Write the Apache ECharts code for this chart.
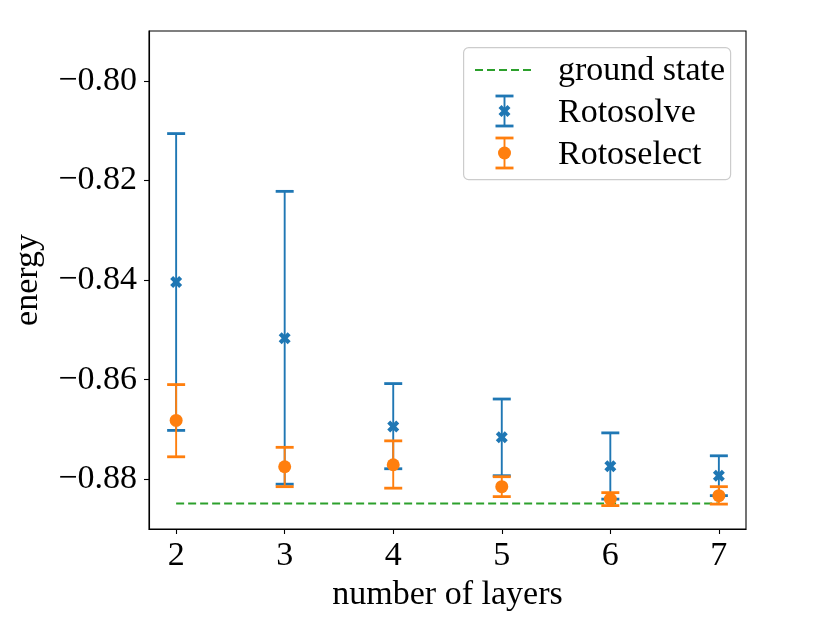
<!DOCTYPE html>
<html>
<head>
<meta charset="utf-8">
<script src="https://cdn.jsdelivr.net/npm/echarts@6/dist/echarts.min.js"></script>
<style>
html,body{margin:0;padding:0;background:#fff;}
#chart{width:830px;height:623px;}
</style>
</head>
<body>
<div id="chart"></div>
<script>
// ---- data ----
const layers = [2, 3, 4, 5, 6, 7];
const rotosolveMean = [-0.8404, -0.8517, -0.8694, -0.8716, -0.8774, -0.8793];
const rotosolveLow  = [-0.8702, -0.8810, -0.8779, -0.8793, -0.8840, -0.8833];
const rotosolveHigh = [-0.8106, -0.8222, -0.8608, -0.8639, -0.8707, -0.8753];
const rotoselectMean = [-0.8682, -0.8775, -0.8771, -0.8815, -0.8840, -0.8833];
const rotoselectLow  = [-0.8755, -0.8815, -0.8818, -0.8835, -0.8853, -0.8850];
const rotoselectHigh = [-0.8610, -0.8736, -0.8723, -0.8795, -0.8827, -0.8815];
const groundStateX = [2, 7];
const groundStateEnergy = -0.8849;
const xTicks = [2, 3, 4, 5, 6, 7];
const yTicks = [-0.88, -0.86, -0.84, -0.82, -0.80];
const legendLabels = ['ground state', 'Rotosolve', 'Rotoselect'];
const axisTitles = {x: 'number of layers', y: 'energy'};

// ---- styling ----
const BLUE = '#1f77b4', ORANGE = '#ff7f0e', GREEN = '#2ca02c';
const FONT = 'Liberation Serif';
const FS = 34;
const X_PATH = 'path://M-2,-4 L0,-2 L2,-4 L4,-2 L2,0 L4,2 L2,4 L0,2 L-2,4 L-4,2 L-2,0 L-4,-2 Z';

function errData(mean, lo, hi) {
  return layers.map((x, i) => [x, mean[i], lo[i], hi[i]]);
}
function errRender(color) {
  return function (params, api) {
    const x = api.value(0);
    const pLo = api.coord([x, api.value(2)]);
    const pHi = api.coord([x, api.value(3)]);
    const cw = 9;
    return {
      type: 'group',
      children: [
        {type: 'line', shape: {x1: pLo[0], y1: pLo[1], x2: pHi[0], y2: pHi[1]},
         style: {stroke: color, lineWidth: 1.9}},
        {type: 'line', shape: {x1: pLo[0] - cw, y1: pLo[1], x2: pLo[0] + cw, y2: pLo[1]},
         style: {stroke: color, lineWidth: 2.8}},
        {type: 'line', shape: {x1: pHi[0] - cw, y1: pHi[1], x2: pHi[0] + cw, y2: pHi[1]},
         style: {stroke: color, lineWidth: 2.8}}
      ]
    };
  };
}

const fmt = v => (v < 0 ? '\u2212' : '') + Math.abs(v).toFixed(2);

const chart = echarts.init(document.getElementById('chart'), null, {renderer: 'canvas'});
const gridL = 149, gridT = 31, gridR = 84, gridB = 94;
const lx = 463, ly = 47;
const ZL = 110;
chart.setOption({
  animation: false,
  backgroundColor: '#fff',
  textStyle: {fontFamily: FONT},
  grid: {left: gridL, top: gridT, right: gridR, bottom: gridB, show: true,
         borderColor: '#000', borderWidth: 1.1, backgroundColor: 'transparent'},
  xAxis: {
    type: 'value', min: 1.75, max: 7.25,
    name: axisTitles.x, nameLocation: 'middle', nameGap: 33,
    nameTextStyle: {fontFamily: FONT, fontSize: FS, color: '#000'},
    axisLine: {show: true, onZero: false, lineStyle: {color: '#000', width: 1.1}},
    axisTick: {show: true, inside: false, length: 5, customValues: xTicks, lineStyle: {color: '#000', width: 1.1}},
    axisLabel: {show: true, customValues: xTicks, margin: 10, fontFamily: FONT, fontSize: FS, color: '#000',
                formatter: v => String(v)},
    splitLine: {show: false}
  },
  yAxis: {
    type: 'value', min: -0.89, max: -0.79,
    name: axisTitles.y, nameLocation: 'middle', nameGap: 104,
    nameTextStyle: {fontFamily: FONT, fontSize: FS, color: '#000'},
    axisLine: {show: true, onZero: false, lineStyle: {color: '#000', width: 1.1}},
    axisTick: {show: true, inside: false, length: 5, customValues: yTicks, lineStyle: {color: '#000', width: 1.1}},
    axisLabel: {show: true, customValues: yTicks, margin: 12, fontFamily: FONT, fontSize: FS, color: '#000',
                formatter: fmt},
    splitLine: {show: false}
  },
  series: [
    {
      name: legendLabels[0], type: 'line', z: 2,
      data: groundStateX.map(x => [x, groundStateEnergy]),
      symbol: 'none',
      lineStyle: {color: GREEN, width: 2, type: [8, 4]}
    },
    {
      name: legendLabels[1] + ' err', type: 'custom', z: 3,
      renderItem: errRender(BLUE),
      data: errData(rotosolveMean, rotosolveLow, rotosolveHigh),
      encode: {x: 0, y: [2, 3]}
    },
    {
      name: legendLabels[1], type: 'scatter', z: 4,
      symbol: X_PATH, symbolSize: 12,
      itemStyle: {color: BLUE, opacity: 1},
      data: layers.map((x, i) => [x, rotosolveMean[i]])
    },
    {
      name: legendLabels[2] + ' err', type: 'custom', z: 5,
      renderItem: errRender(ORANGE),
      data: errData(rotoselectMean, rotoselectLow, rotoselectHigh),
      encode: {x: 0, y: [2, 3]}
    },
    {
      name: legendLabels[2], type: 'scatter', z: 6,
      symbol: 'circle', symbolSize: 13,
      itemStyle: {color: ORANGE, opacity: 1},
      data: layers.map((x, i) => [x, rotoselectMean[i]])
    }
  ],
  graphic: [
    {type: 'rect', left: lx, top: ly, z: 100,
     shape: {width: 267, height: 132, r: 5},
     style: {fill: 'rgba(255,255,255,0.8)', stroke: '#cccccc', lineWidth: 1.2}},
    {type: 'line', z: ZL, shape: {x1: 475, y1: 70, x2: 535, y2: 70},
     style: {stroke: GREEN, lineWidth: 2, lineDash: [8, 4]}},
    {type: 'line', z: ZL, shape: {x1: 504.5, y1: 96, x2: 504.5, y2: 126}, style: {stroke: BLUE, lineWidth: 1.9}},
    {type: 'line', z: ZL, shape: {x1: 495.5, y1: 96, x2: 513.5, y2: 96}, style: {stroke: BLUE, lineWidth: 2.8}},
    {type: 'line', z: ZL, shape: {x1: 495.5, y1: 126, x2: 513.5, y2: 126}, style: {stroke: BLUE, lineWidth: 2.8}},
    {type: 'polygon', z: ZL + 1, x: 504.5, y: 111,
     shape: {points: [[-2,-4],[0,-2],[2,-4],[4,-2],[2,0],[4,2],[2,4],[0,2],[-2,4],[-4,2],[-2,0],[-4,-2]].map(p => [p[0]*1.5, p[1]*1.5])},
     style: {fill: BLUE}},
    {type: 'line', z: ZL, shape: {x1: 504.5, y1: 138, x2: 504.5, y2: 168}, style: {stroke: ORANGE, lineWidth: 1.9}},
    {type: 'line', z: ZL, shape: {x1: 495.5, y1: 138, x2: 513.5, y2: 138}, style: {stroke: ORANGE, lineWidth: 2.8}},
    {type: 'line', z: ZL, shape: {x1: 495.5, y1: 168, x2: 513.5, y2: 168}, style: {stroke: ORANGE, lineWidth: 2.8}},
    {type: 'circle', z: ZL + 1, shape: {cx: 504.5, cy: 153, r: 6.5}, style: {fill: ORANGE}},
    {type: 'text', x: 558, y: 71, z: ZL,
     style: {text: legendLabels[0], font: FS + 'px "' + FONT + '"', fill: '#000', verticalAlign: 'middle'}},
    {type: 'text', x: 558, y: 113, z: ZL,
     style: {text: legendLabels[1], font: FS + 'px "' + FONT + '"', fill: '#000', verticalAlign: 'middle'}},
    {type: 'text', x: 558, y: 155, z: ZL,
     style: {text: legendLabels[2], font: FS + 'px "' + FONT + '"', fill: '#000', verticalAlign: 'middle'}}
  ]
});
</script>
</body>
</html>
